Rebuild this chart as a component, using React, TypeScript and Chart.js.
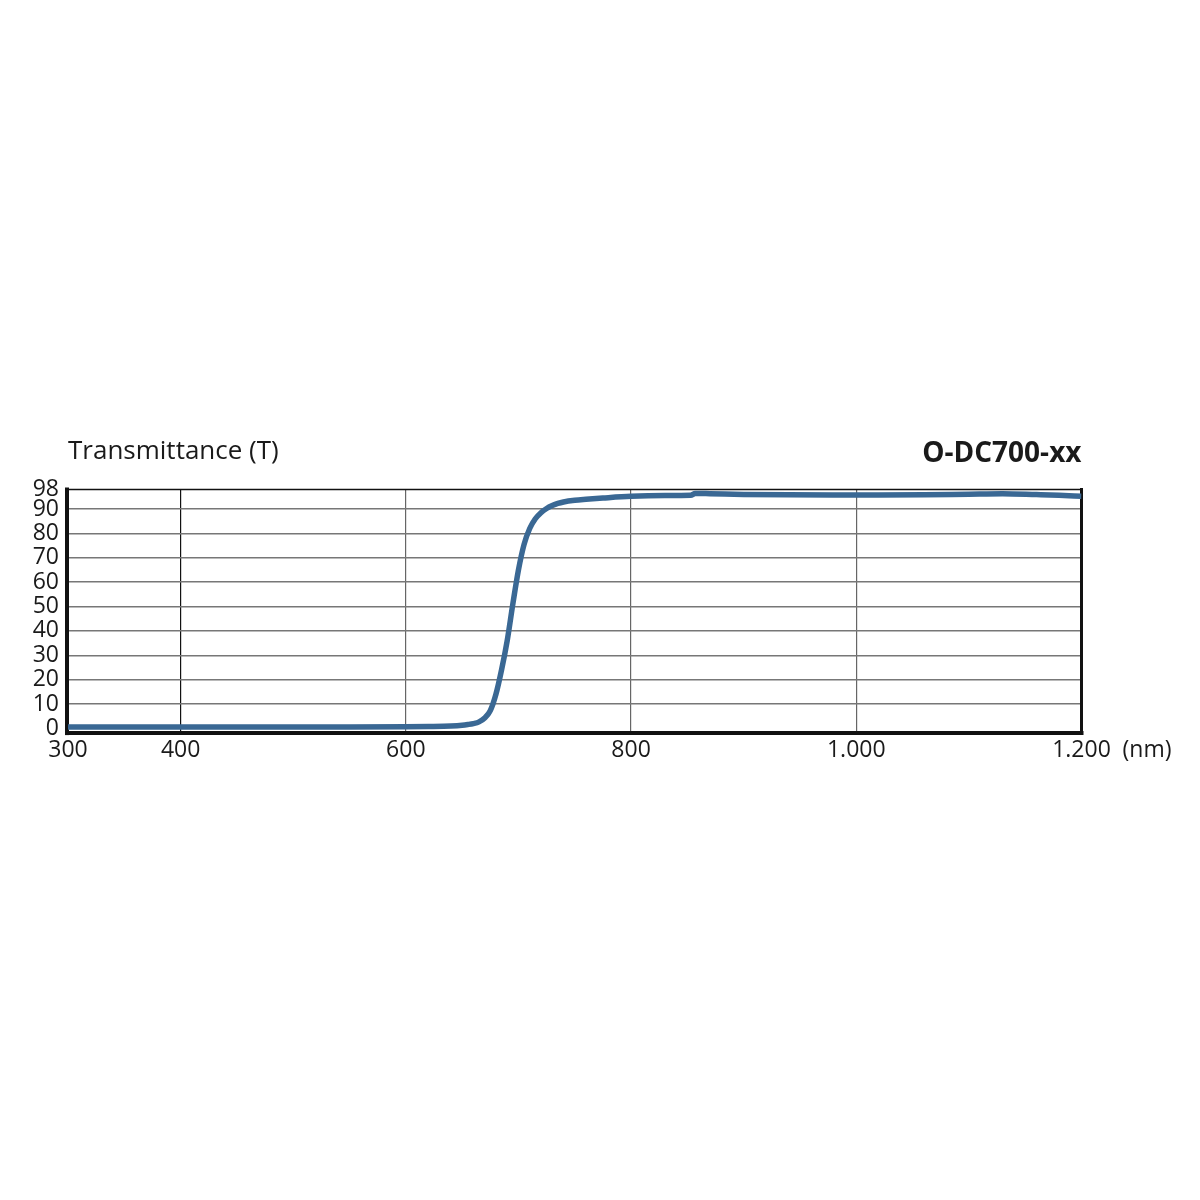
import { useEffect, useRef } from 'react';
import { Chart, registerables } from 'chart.js';

Chart.register(...registerables);

const FONT = '"Open Sans", "Noto Sans", sans-serif';

// wavelength (nm)
const wavelengths = [300, 350, 400, 450, 500, 550, 600, 620, 640, 650, 655, 660, 665, 670, 675, 680, 685, 690, 695, 700, 705, 710, 715, 720, 725, 730, 735, 740, 750, 760, 775, 800, 830, 853, 857, 870, 900, 940, 980, 1020, 1060, 1100, 1130, 1160, 1180, 1200];
// transmittance (%)
const transmittance = [0.6, 0.6, 0.6, 0.6, 0.6, 0.6, 0.7, 0.8, 1.0, 1.3, 1.6, 2.0, 2.7, 4.3, 7.3, 14, 24, 36, 51, 65, 75.5, 82, 86, 88.5, 90.2, 91.4, 92.3, 92.9, 93.6, 94.0, 94.5, 95.2, 95.5, 95.6, 96.4, 96.3, 96.0, 95.8, 95.7, 95.7, 95.8, 96.1, 96.3, 95.9, 95.6, 95.2];

const xTicks = [300, 400, 600, 800, 1000, 1200];
const yTicks = [0, 10, 20, 30, 40, 50, 60, 70, 80, 90, 98];

const yTitle = 'Transmittance (T)';
const chartTitle = 'O-DC700-xx';
const xUnit = '(nm)';

const fmt = (v: number) => String(v).replace(/\B(?=(\d{3})+(?!\d))/g, '.');

export default function App() {
  const ref = useRef<HTMLCanvasElement>(null);

  useEffect(() => {
    if (!ref.current) return;
    const framePlugin = {
      id: 'frame',
      beforeDatasetsDraw(chart: any) {
        const { ctx, chartArea } = chart;
        const { left, right, top, bottom } = chartArea;
        ctx.save();
        ctx.strokeStyle = '#111';
        ctx.lineCap = 'square';
        ctx.lineWidth = 1.6;
        ctx.beginPath();
        ctx.moveTo(left, top);
        ctx.lineTo(right, top);
        ctx.stroke();
        ctx.lineWidth = 4;
        ctx.beginPath();
        ctx.moveTo(left - 1, top);
        ctx.lineTo(left - 1, bottom + 1);
        ctx.stroke();
        ctx.beginPath();
        ctx.moveTo(left - 1, bottom + 1);
        ctx.lineTo(right, bottom + 1);
        ctx.stroke();
        ctx.lineWidth = 3;
        ctx.beginPath();
        ctx.moveTo(right, top);
        ctx.lineTo(right, bottom + 1);
        ctx.stroke();
        ctx.restore();
      },
      afterDraw(chart: any) {
        const { ctx, chartArea } = chart;
        const { left, right, top } = chartArea;
        ctx.save();
        ctx.fillStyle = '#1a1a1a';
        ctx.textBaseline = 'alphabetic';
        ctx.font = `26px ${FONT}`;
        ctx.textAlign = 'left';
        ctx.fillText(yTitle, left, top - 31);
        ctx.font = `bold 28px ${FONT}`;
        ctx.textAlign = 'right';
        ctx.fillText(chartTitle, right, top - 28);
        ctx.font = `23px ${FONT}`;
        ctx.textAlign = 'left';
        const xs = chart.scales.x;
        ctx.fillText(xUnit, xs.getPixelForValue(1200) + 41, 757);
        ctx.restore();
      },
    };

    const chart = new Chart(ref.current, {
      type: 'line',
      data: {
        datasets: [
          {
            data: wavelengths.map((w, i) => ({ x: w, y: transmittance[i] })),
            borderColor: '#3a6894',
            borderWidth: 5.5,
            pointRadius: 0,
            cubicInterpolationMode: 'monotone',
            fill: false,
          },
        ],
      },
      options: {
        responsive: false,
        animation: false,
        layout: { padding: { left: 8, right: 118.5, top: 489.5, bottom: 427.9 } },
        plugins: { legend: { display: false }, title: { display: false }, tooltip: { enabled: false } },
        scales: {
          x: {
            type: 'linear',
            min: 300,
            max: 1200,
            border: { display: false },
            afterFit: (s: any) => { s.height = 40; },
            afterBuildTicks: (s: any) => { s.ticks = xTicks.map((v) => ({ value: v })); },
            grid: {
              drawTicks: false,
              lineWidth: 1.2,
              color: (c: any) => {
                const v = c.tick?.value;
                if (v === 300 || v === 1200) return 'rgba(0,0,0,0)';
                return v === 400 ? '#111' : '#666';
              },
            },
            ticks: {
              padding: 5,
              color: '#1a1a1a',
              font: { family: FONT, size: 23 },
              maxRotation: 0,
              autoSkip: false,
              callback: (v: any) => fmt(Number(v)),
            },
          },
          y: {
            type: 'linear',
            min: -1.5,
            max: 98,
            border: { display: false },
            afterFit: (s: any) => { s.width = 60; },
            afterBuildTicks: (s: any) => { s.ticks = yTicks.map((v) => ({ value: v })); },
            grid: {
              drawTicks: false,
              lineWidth: 1.5,
              color: (c: any) => {
                const v = c.tick?.value;
                if (v === 0 || v === 98) return 'rgba(0,0,0,0)';
                return '#777';
              },
            },
            ticks: {
              padding: 9,
              color: '#1a1a1a',
              font: { family: FONT, size: 23, lineHeight: 1 },
              autoSkip: false,
              callback: (v: any) => String(v),
            },
          },
        },
      },
      plugins: [framePlugin],
    });
    return () => chart.destroy();
  }, []);

  return (
    <div style={{ position: 'absolute', left: 0, top: 0, width: 1200, height: 1200, background: '#fff' }}>
      <canvas ref={ref} width={1200} height={1200} style={{ width: 1200, height: 1200, display: 'block' }} />
    </div>
  );
}
